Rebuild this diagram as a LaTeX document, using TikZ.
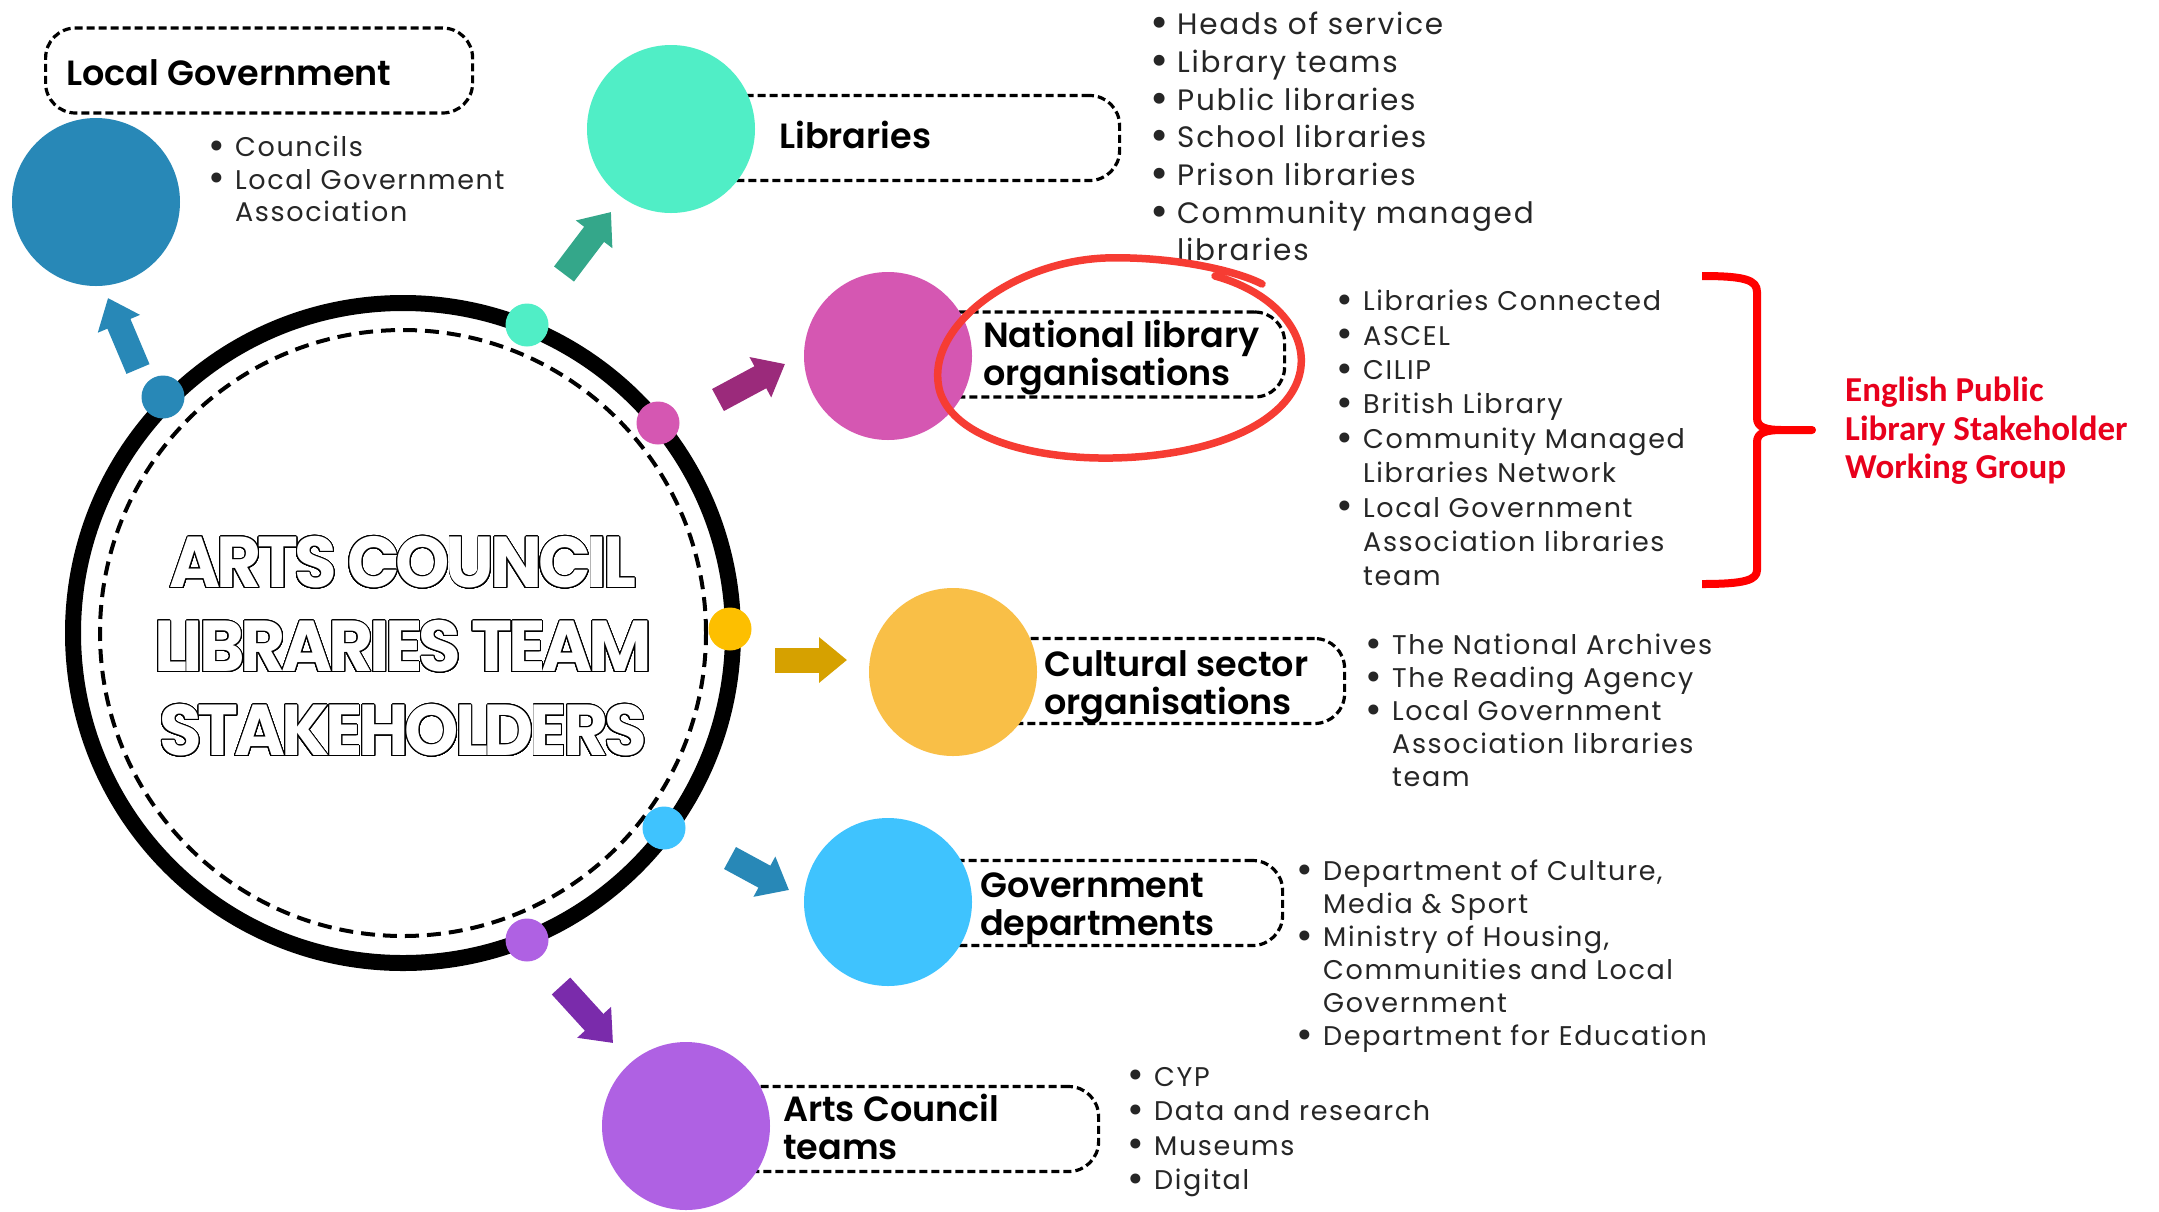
\documentclass[tikz,border=0pt]{standalone}
\usepackage{fontspec}
\usepackage{graphicx}
\usepackage[copies]{contour}
\usetikzlibrary{arrows.meta}
\setmainfont{Poppins}
\newfontfamily\bulfont[LetterSpace=6]{Poppins}
\newfontfamily\labfont{Poppins SemiBold}
\newfontfamily\redfont{Carlito}
\contourlength{1.0pt}
\contournumber{32}
\definecolor{lgblue}{HTML}{2888B7}
\definecolor{teal}{HTML}{50EEC6}
\definecolor{tealdark}{HTML}{34A78A}
\definecolor{pinkc}{HTML}{D557B2}
\definecolor{pinkdark}{HTML}{9B2A7B}
\definecolor{yellowc}{HTML}{F9BF47}
\definecolor{yellowdot}{HTML}{FDBF00}
\definecolor{golddark}{HTML}{D6A100}
\definecolor{skyc}{HTML}{3FC3FE}
\definecolor{purplec}{HTML}{AF61E3}
\definecolor{purpledark}{HTML}{7A2BAB}
\definecolor{penred}{HTML}{F63C33}
\definecolor{brred}{HTML}{FF0000}
\definecolor{txtred}{HTML}{E8001C}
\newcommand\bdot{\raisebox{-0.1em}{\scalebox{1.5}{\textbullet}}}
\newcommand\bi[1]{\makebox[22pt][l]{\hspace*{-5pt}\bdot}#1}
\newcommand\bc[1]{\hspace*{22pt}#1}
\newcommand\outl[1]{\contour{black}{\textcolor{white}{#1}}}
\begin{document}
\begin{tikzpicture}[x=1pt,y=-1pt,
  dbox/.style={draw=black, line width=3.2pt, dash pattern=on 8pt off 4pt, rounded corners=30pt, minimum height=85pt, inner sep=0pt, anchor=west},
  bigc/.style={circle, minimum size=168pt, inner sep=0pt},
  ringdot/.style={circle, minimum size=43pt, inner sep=0pt},
  lab/.style={font=\labfont\fontsize{35}{38}\selectfont, align=left, anchor=west, inner sep=0pt},
  blist/.style={font=\bulfont\fontsize{27}{#1}\selectfont, align=left, anchor=north west, inner sep=0pt, text=black!85},
  blk/.style={line width=25pt, -{Triangle[length=28pt,width=44pt]}}]
\fill[white] (0,0) rectangle (2159,1211);
\useasboundingbox (0,0) rectangle (2159,1211);

% central ring
\node[circle, draw, line width=16pt, minimum size=660pt, inner sep=0pt] (ring) at (403,633) {};
\node[circle, draw, line width=4pt, dash pattern=on 14pt off 8pt, minimum size=606pt, inner sep=0pt] (inring) at (403,633) {};
\node[font=\fontsize{72}{84}\selectfont\bfseries\addfontfeature{LetterSpace=-6}, align=center, inner sep=0pt] (title) at (403,647)
  {\scalebox{0.96}[1]{\outl{ARTS COUNCIL}}\\\scalebox{0.96}[1]{\outl{LIBRARIES TEAM}}\\\scalebox{0.96}[1]{\outl{STAKEHOLDERS}}};

% dots on ring
\node[ringdot, fill=lgblue] (dlg) at (163,397) {};
\node[ringdot, fill=teal] (dlib) at (527,325) {};
\node[ringdot, fill=pinkc] (dnat) at (658,423) {};
\node[ringdot, fill=yellowdot] (dcul) at (730,629) {};
\node[ringdot, fill=skyc] (dgov) at (664,828) {};
\node[ringdot, fill=purplec] (dac) at (527,940) {};

% boxes
\node[dbox, minimum width=427pt] (lgbox) at (44,70.5) {};
\node[dbox, minimum width=447pt] (libbox) at (671,138) {};
\node[dbox, minimum width=395pt] (natbox) at (888,354.5) {};
\node[dbox, minimum width=390pt] (culbox) at (953,681) {};
\node[dbox, minimum width=393pt] (govbox) at (888,903) {};
\node[dbox, minimum width=411pt] (acbox) at (686,1129) {};

% big circles
\node[bigc, fill=lgblue] (lg) at (96,202) {};
\node[bigc, fill=teal] (lib) at (671,129) {};
\node[bigc, fill=pinkc] (nat) at (888,356) {};
\node[bigc, fill=yellowc] (cul) at (953,672) {};
\node[bigc, fill=skyc] (gov) at (888,902) {};
\node[bigc, fill=purplec] (ac) at (686,1126) {};

% labels
\node[lab] (lglab) at (66,73) {Local Government};
\node[lab] (liblab) at (779,135) {Libraries};
\node[lab] (natlab) at (983,358) {National library\\organisations};
\node[lab] (cullab) at (1044,687) {Cultural sector\\organisations};
\node[lab] (govlab) at (980,909) {Government\\departments};
\node[lab] (aclab) at (783,1127) {Arts Council\\teams};

% arrows
\coordinate (alg1) at (138,369); \coordinate (alg2) at (108,298);
\coordinate (alib1) at (564,274); \coordinate (alib2) at (611,212);
\coordinate (anat1) at (718,400); \coordinate (anat2) at (785,364);
\coordinate (acul1) at (775,660); \coordinate (acul2) at (847,660);
\coordinate (agov1) at (730,858); \coordinate (agov2) at (789,890);
\coordinate (aac1) at (561,986); \coordinate (aac2) at (613,1043);
\draw[blk, lgblue] (alg1) -- (alg2);
\draw[blk, tealdark] (alib1) -- (alib2);
\draw[blk, pinkdark] (anat1) -- (anat2);
\draw[blk, golddark] (acul1) -- (acul2);
\draw[blk, lgblue] (agov1) -- (agov2);
\draw[blk, purpledark] (aac1) -- (aac2);

% lists
\node[blist=32.4] (lglist) at (213,136) {\bi{Councils}\\\bi{Local Government}\\\bc{Association}};
\node[blist=37.7, font=\bulfont\fontsize{29.5}{37.7}\selectfont] (liblist) at (1155,12) {\bi{Heads of service}\\\bi{Library teams}\\\bi{Public libraries}\\\bi{School libraries}\\\bi{Prison libraries}\\\bi{Community managed}\\\bc{libraries}};
\node[blist=34.4] (natlist) at (1341,290) {\bi{Libraries Connected}\\\bi{ASCEL}\\\bi{CILIP}\\\bi{British Library}\\\bi{Community Managed}\\\bc{Libraries Network}\\\bi{Local Government}\\\bc{Association libraries}\\\bc{team}};
\node[blist=33] (cullist) at (1370,634) {\bi{The National Archives}\\\bi{The Reading Agency}\\\bi{Local Government}\\\bc{Association libraries}\\\bc{team}};
\node[blist=33] (govlist) at (1301,860) {\bi{Department of Culture,}\\\bc{Media \& Sport}\\\bi{Ministry of Housing,}\\\bc{Communities and Local}\\\bc{Government}\\\bi{Department for Education}};
\node[blist=34.4] (aclist) at (1132,1067) {\bi{CYP}\\\bi{Data and research}\\\bi{Museums}\\\bi{Digital}};

% red hand-drawn ellipse
\draw[penred, line width=7.5pt, line cap=round, line join=round]
  (1215,276) .. controls (1320,305) and (1345,410) .. (1200,447)
  .. controls (1100,472) and (960,455) .. (940,392)
  .. controls (922,330) and (1010,262) .. (1105,258)
  .. controls (1170,256) and (1235,270) .. (1262,284);

% red brace
\draw[brred, line width=8pt, line join=round]
  (1702,276) .. controls (1745,276) and (1757,280) .. (1757,292) -- (1757,418)
  .. controls (1757,427) and (1765,430) .. (1782,430) -- (1812,430) -- (1782,430)
  .. controls (1765,430) and (1757,433) .. (1757,442) -- (1757,570)
  .. controls (1757,580) and (1745,584) .. (1702,584);
\coordinate (bracetip) at (1812,430);
\node[font=\redfont\bfseries\fontsize{35}{38.5}\selectfont, text=txtred, align=left, anchor=west, inner sep=0pt] (wg) at (1845,431)
  {English Public\\Library Stakeholder\\Working Group};
\end{tikzpicture}
\end{document}
